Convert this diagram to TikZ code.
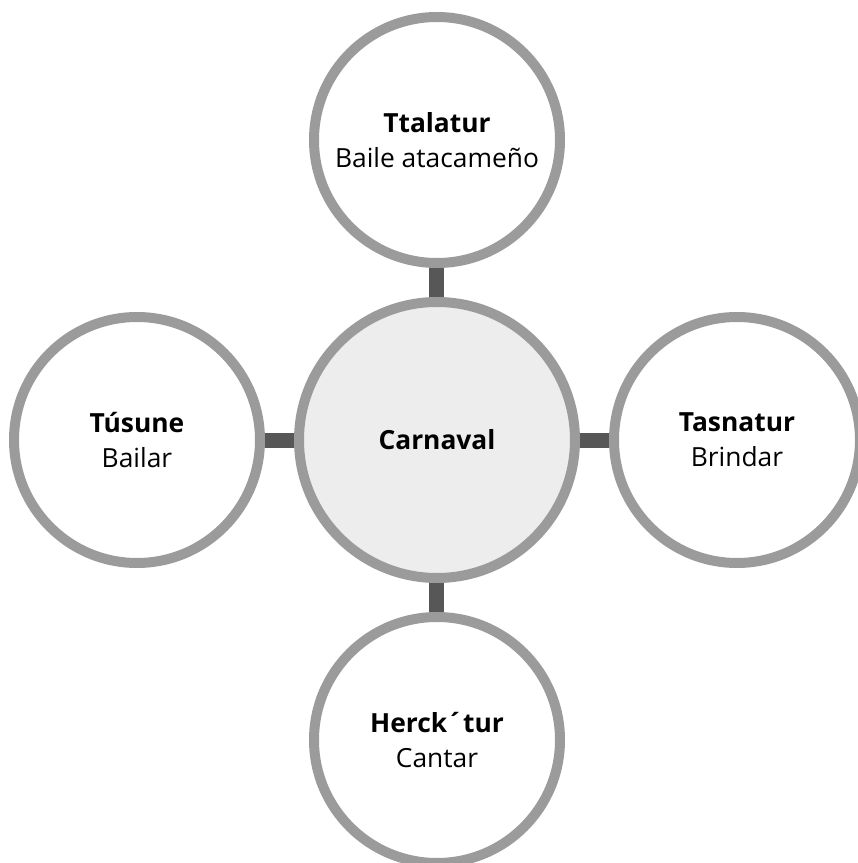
\documentclass[tikz,border=0pt]{standalone}
\usepackage{fontspec}
\setmainfont{Open Sans}
\usetikzlibrary{trees}

\definecolor{ringgray}{HTML}{9B9B9B}
\definecolor{bargray}{HTML}{575757}
\definecolor{centergray}{HTML}{EDEDED}
\newcommand{\keyword}[1]{{\bfseries #1}}

\begin{document}
\begin{tikzpicture}[clockwise from=90, sibling angle=90, level distance=6cm,
      every node/.style = {shape=circle, draw=ringgray, line width=0.2cm,
        fill=white, align=center, inner sep=0pt, minimum size=4.92cm,
        font=\fontsize{15}{20}\selectfont},
      edge from parent/.style = {draw=bargray, line width=0.3cm}]
    \useasboundingbox (-8.74,-8.46) rectangle (8.40,8.80);
    \node (carnaval) [fill=centergray, minimum size=5.52cm] {\keyword{Carnaval}}
    child { node (ttalatur) {\keyword{Ttalatur}\\ Baile atacameño}}
    child { node (tasnatur) {\keyword{Tasnatur}\\ Brindar}}
    child { node (herck) {\keyword{Herck´tur}\\ Cantar}}
    child { node (tusune) {\keyword{Túsune}\\ Bailar}};
  \end{tikzpicture}
\end{document}
